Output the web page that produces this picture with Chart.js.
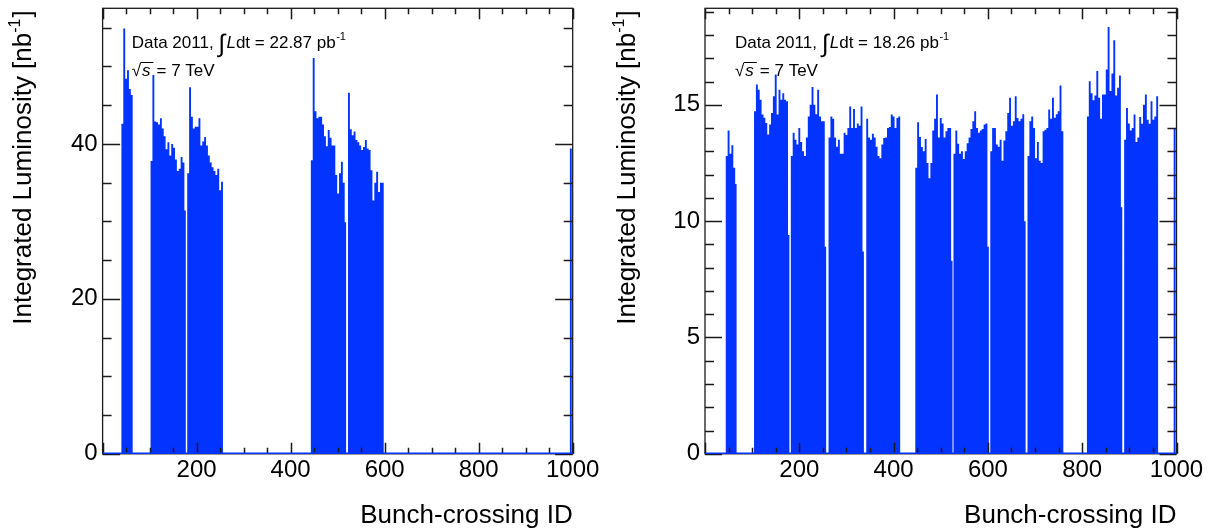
<!DOCTYPE html>
<html><head><meta charset="utf-8">
<script src="https://cdn.jsdelivr.net/npm/chart.js@4.4.1/dist/chart.umd.min.js"></script>
<style>
html,body{margin:0;padding:0;background:#fff;overflow:hidden;width:1211px;height:531px}
#wrapL{position:absolute;left:0;top:0;width:604px;height:531px}
#wrapR{position:absolute;left:604px;top:0;width:607px;height:531px}
canvas{display:block}
</style></head><body>
<div id="wrapL"><canvas id="cL" width="604" height="531"></canvas></div>
<div id="wrapR"><canvas id="cR" width="607" height="531"></canvas></div>
<script>
// ---------------- data ----------------
const binWidth = 4;   // BCIDs covered by each listed value
const tailWidth = 3;  // BCIDs covered by the lower last bunch of a train
const xTickLabels = [200, 400, 600, 800, 1000];

// left panel: Data 2011, 22.87 pb-1
const leftStarts = [40, 102, 180, 443, 522, 994];
const leftTails  = [null, 31.4, null, 29.9, null, null];
const leftTrain1 = [42.6, 54.9, 48.4, 49.5, 47.1, 46.3];
const leftTrain2 = [37.8, 48.9, 42.9, 42.8, 42.5, 43.3, 42.0, 41.0, 39.3, 40.2, 38.5, 40.0, 39.5, 38.0, 36.5, 36.8, 38.3, 37.6];
const leftTrain3 = [36.2, 47.3, 43.5, 42.0, 42.2, 42.2, 43.3, 39.8, 40.3, 40.9, 39.8, 38.5, 37.6, 37.0, 36.5, 36.0, 36.8, 34.0, 35.1];
const leftTrain4 = [37.9, 51.1, 44.2, 43.3, 43.5, 43.5, 42.5, 41.0, 39.7, 41.8, 40.8, 39.8, 39.8, 36.0, 33.6, 36.2, 37.7, 35.0];
const leftTrain5 = [46.6, 41.9, 41.1, 41.6, 40.5, 40.2, 39.8, 39.2, 39.6, 40.5, 39.4, 39.2, 36.6, 32.7, 35.0, 36.4, 33.8, 35.0, 35.0];
const leftTrain6 = [39.4];
const leftYTicks = [0, 20, 40];

// right panel: Data 2011, 18.26 pb-1
const rightStarts = [44, 104, 182, 262, 342, 446, 527, 605, 684, 810, 889, 994];
const rightTails  = [11.6, 9.4, 8.9, 8.7, null, 8.3, 8.9, 10.0, null, 10.6, null, null];
const rightTrain1  = [12.8, 13.9, 12.9, 13.26, 12.3];
const rightTrain2  = [14.72, 15.87, 15.65, 15.22, 14.58, 14.44, 14.22, 13.72, 14.15, 14.65, 15.37, 16.3, 14.58, 15.65, 15.22, 15.5, 15.22, 15.15];
const rightTrain3  = [12.8, 13.8, 13.5, 13.3, 14.0, 13.4, 13.0, 12.8, 13.6, 14.5, 15.0, 15.77, 15.0, 14.6, 15.65, 14.5, 14.3, 14.29];
const rightTrain4  = [13.6, 14.5, 14.4, 13.6, 13.2, 13.5, 12.9, 12.9, 13.8, 13.7, 14.0, 14.93, 14.0, 14.82, 14.0, 14.2, 14.1, 14.93];
const rightTrain5  = [14.4, 13.6, 13.5, 13.76, 13.6, 13.2, 12.8, 12.7, 13.3, 13.57, 13.6, 14.0, 14.05, 14.58, 14.5, 14.0, 14.43, 14.5];
const rightTrain6  = [12.3, 14.25, 13.62, 13.19, 13.0, 13.53, 12.5, 11.85, 12.5, 13.9, 14.4, 15.45, 13.6, 14.43, 14.2, 13.6, 13.86, 14.0, 14.0];
const rightTrain7  = [12.9, 13.9, 13.33, 12.9, 13.0, 12.67, 13.0, 13.35, 13.6, 13.96, 14.3, 14.72, 14.0, 13.8, 13.9, 13.96, 14.15, 14.2];
const rightTrain8  = [13.0, 14.0, 14.0, 13.3, 13.2, 13.5, 12.6, 13.47, 13.86, 14.65, 15.3, 14.1, 14.3, 15.37, 14.43, 14.3, 14.4, 14.6];
const rightTrain9  = [12.8, 14.3, 14.5, 14.0, 12.7, 13.4, 12.6, 12.5, 13.86, 13.93, 14.0, 14.8, 14.4, 15.3, 14.44, 14.6, 14.72, 15.83, 13.86];
const rightTrain10 = [14.5, 16.01, 15.5, 15.2, 15.4, 16.45, 15.3, 14.4, 15.44, 15.44, 16.52, 18.35, 15.6, 16.35, 17.78, 15.4, 15.73, 16.26];
const rightTrain11 = [13.5, 14.86, 14.2, 13.9, 14.0, 14.58, 13.4, 13.6, 14.48, 14.19, 15.0, 15.44, 14.36, 14.19, 15.15, 14.36, 14.5, 15.37];
const rightTrain12 = [14.0];
const rightYTicks = [0, 5, 10, 15];

// ---------------- rendering ----------------
const FONT = '"Liberation Sans", Arial, Helvetica, sans-serif';
const BLUE = 'rgb(3,52,255)';
Chart.defaults.font.family = FONT;
Chart.defaults.color = '#000';

function buildSteps(starts, trains, tails) {
  const pts = [{x: 0, y: 0}];
  let last = 0;
  starts.forEach((s, i) => {
    trains[i].forEach((v, k) => pts.push({x: s + k * binWidth, y: v}));
    let end = s + trains[i].length * binWidth;
    if (tails[i] != null) { pts.push({x: end, y: tails[i]}); end += tailWidth; }
    pts.push({x: end, y: 0});
    last = end;
  });
  if (last < 1000) pts.push({x: 1000, y: 0});
  return pts;
}

const frameTicks = {
  id: 'frameTicks',
  afterDatasetsDraw(chart) {
    const o = chart.options.plugins.frameTicks;
    const {ctx, chartArea: a} = chart;
    const xs = chart.scales.x, ys = chart.scales.y;
    ctx.save();
    ctx.strokeStyle = '#1a1a1a';
    ctx.lineWidth = 1.5;
    ctx.beginPath();
    for (let v = 0; v <= ys.max + 1e-9; v += o.yMinorStep) {
      const p = Math.round(ys.getPixelForValue(v)) + 0.5;
      const major = Math.abs(v / o.yMajorStep - Math.round(v / o.yMajorStep)) < 1e-6;
      const len = major ? o.yMajLen : o.yMinLen;
      ctx.moveTo(a.left, p); ctx.lineTo(a.left + len, p);
      ctx.moveTo(a.right, p); ctx.lineTo(a.right - len, p);
    }
    for (let v = 0; v <= 1000 + 1e-9; v += o.xMinorStep) {
      const p = Math.round(xs.getPixelForValue(v)) + 0.5;
      const major = v % o.xMajorStep === 0;
      const len = major ? o.xMajLen : o.xMinLen;
      ctx.moveTo(p, a.bottom); ctx.lineTo(p, a.bottom - len);
      ctx.moveTo(p, a.top); ctx.lineTo(p, a.top + len);
    }
    ctx.stroke();
    ctx.lineWidth = 1.3;
    ctx.strokeRect(a.left, a.top, a.right - a.left, a.bottom - a.top);
    const y0 = ys.getPixelForValue(0);
    ctx.strokeStyle = BLUE;
    ctx.lineWidth = 1.5;
    ctx.beginPath(); ctx.moveTo(a.left, y0 - 0.5); ctx.lineTo(a.right, y0 - 0.5); ctx.stroke();
    ctx.restore();
  },
  afterDraw(chart) {
    const o = chart.options.plugins.frameTicks;
    const {ctx, chartArea: a} = chart;
    ctx.save();
    ctx.fillStyle = '#000';
    ctx.textBaseline = 'alphabetic';
    ctx.font = `26px ${FONT}`;
    ctx.textAlign = 'right';
    ctx.fillText('Bunch-crossing ID', a.right, 523);
    ctx.translate(o.yTitleX, a.top + 2);
    ctx.rotate(-Math.PI / 2);
    ctx.textAlign = 'left';
    ctx.font = `26px ${FONT}`;
    const t1 = 'Integrated Luminosity [nb';
    const w1 = ctx.measureText(t1).width;
    ctx.font = `16px ${FONT}`;
    const w2 = ctx.measureText('-1').width;
    ctx.font = `26px ${FONT}`;
    const w3 = ctx.measureText(']').width;
    let x = -(w1 + w2 + w3 + 1);
    ctx.fillText(t1, x, 0); x += w1;
    ctx.font = `16px ${FONT}`; ctx.fillText('-1', x, -11); x += w2 + 1;
    ctx.font = `26px ${FONT}`; ctx.fillText(']', x, 0);
    ctx.restore();

    ctx.save();
    ctx.fillStyle = '#000'; ctx.strokeStyle = '#000';
    ctx.textAlign = 'left'; ctx.textBaseline = 'alphabetic';
    let lx = o.labelX; const y1 = 48, y2 = 76;
    ctx.font = `17px ${FONT}`;
    ctx.fillText('Data 2011,', lx, y1); lx += ctx.measureText('Data 2011,').width + 5;
    ctx.font = `25px ${FONT}`;
    ctx.fillText('\u222B', lx, y1 + 4); lx += ctx.measureText('\u222B').width + 1;
    ctx.font = `italic 17px ${FONT}`;
    ctx.fillText('L', lx, y1); lx += ctx.measureText('L').width;
    ctx.font = `17px ${FONT}`;
    const lt = 'dt = ' + o.lumi + ' pb';
    ctx.fillText(lt, lx, y1); lx += ctx.measureText(lt).width;
    ctx.font = `11px ${FONT}`;
    ctx.fillText('-1', lx + 0.5, y1 - 8);
    lx = o.labelX;
    ctx.font = `17px ${FONT}`;
    ctx.fillText('\u221A', lx, y2); lx += ctx.measureText('\u221A').width;
    ctx.font = `italic 17px ${FONT}`;
    const sw = ctx.measureText('s').width;
    ctx.fillText('s', lx + 1, y2);
    ctx.lineWidth = 1;
    ctx.beginPath(); ctx.moveTo(lx - 0.5, y2 - 13.5); ctx.lineTo(lx + sw + 4, y2 - 13.5); ctx.stroke();
    lx += sw + 7;
    ctx.font = `17px ${FONT}`;
    ctx.fillText('= 7 TeV', lx, y2);
    ctx.restore();
  }
};

function makeChart(id, points, cfg) {
  return new Chart(document.getElementById(id), {
    type: 'line',
    data: {
      datasets: [{
        data: points,
        stepped: 'before',
        fill: 'origin',
        backgroundColor: BLUE,
        borderColor: 'rgba(0,0,0,0)',
        borderWidth: 0,
        pointRadius: 0,
        tension: 0,
        clip: 2
      }]
    },
    options: {
      responsive: false,
      animation: false,
      devicePixelRatio: 1,
      events: [],
      layout: {padding: {top: 8.3, right: cfg.padRight, left: 0, bottom: 0}},
      plugins: {
        legend: {display: false},
        tooltip: {enabled: false},
        frameTicks: cfg.frame
      },
      scales: {
        x: {
          type: 'linear', min: 0, max: 1000,
          grid: {display: false, drawTicks: false},
          border: {display: false},
          afterBuildTicks: s => { s.ticks = [0].concat(xTickLabels).map(v => ({value: v})); },
          ticks: {
            autoSkip: false, maxRotation: 0, padding: 2,
            font: {size: 24}, color: '#000',
            callback: v => (xTickLabels.includes(v) ? String(v) : '')
          },
          afterFit: s => { s.height = 531 - 453.8; s.paddingLeft = 0; s.paddingRight = 0; }
        },
        y: {
          type: 'linear', min: 0, max: cfg.ymax,
          grid: {display: false, drawTicks: false},
          border: {display: false},
          afterBuildTicks: s => { s.ticks = cfg.yTicks.map(v => ({value: v})); },
          ticks: {padding: 5, font: {size: 24}, color: '#000'},
          afterFit: s => { s.width = cfg.yWidth; s.paddingTop = 0; s.paddingBottom = 0; }
        }
      }
    },
    plugins: [frameTicks]
  });
}

makeChart('cL',
  buildSteps(leftStarts, [leftTrain1, leftTrain2, leftTrain3, leftTrain4, leftTrain5, leftTrain6], leftTails),
  {
    ymax: 57.5, yTicks: leftYTicks, yWidth: 102.6, padRight: 31.3,
    frame: {yMinorStep: 5, yMajorStep: 20, yMajLen: 17.5, yMinLen: 9,
            xMinorStep: 50, xMajorStep: 200, xMajLen: 11, xMinLen: 6,
            yTitleX: 30.5, labelX: 131.7, lumi: '22.87'}
  });

makeChart('cR',
  buildSteps(rightStarts, [rightTrain1, rightTrain2, rightTrain3, rightTrain4, rightTrain5, rightTrain6,
                           rightTrain7, rightTrain8, rightTrain9, rightTrain10, rightTrain11, rightTrain12], rightTails),
  {
    ymax: 19.15, yTicks: rightYTicks, yWidth: 101, padRight: 34.5,
    frame: {yMinorStep: 1, yMajorStep: 5, yMajLen: 17, yMinLen: 9,
            xMinorStep: 50, xMajorStep: 200, xMajLen: 11, xMinLen: 6,
            yTitleX: 31, labelX: 131, lumi: '18.26'}
  });
</script>
</body></html>
